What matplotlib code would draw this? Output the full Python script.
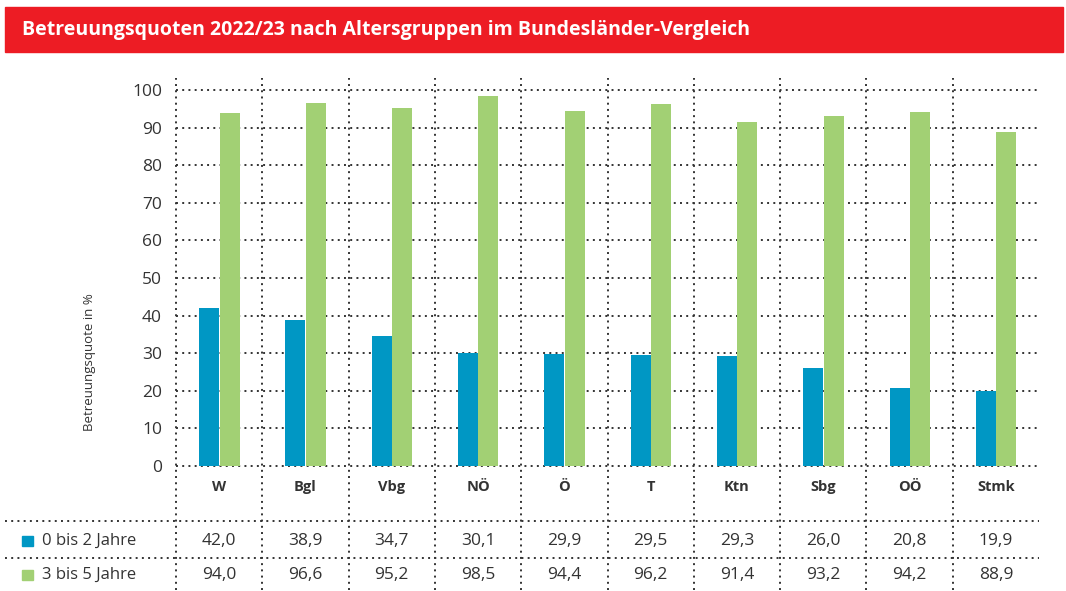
import matplotlib
matplotlib.use("Agg")
import matplotlib.pyplot as plt
from matplotlib.patches import Rectangle
from matplotlib.transforms import blended_transform_factory

# Data
regions = ["W", "Bgl", "Vbg", "NÖ", "Ö", "T", "Ktn", "Sbg", "OÖ", "Stmk"]
age_0_2 = [42.0, 38.9, 34.7, 30.1, 29.9, 29.5, 29.3, 26.0, 20.8, 19.9]
age_3_5 = [94.0, 96.6, 95.2, 98.5, 94.4, 96.2, 91.4, 93.2, 94.2, 88.9]
series_labels = ["0 bis 2 Jahre", "3 bis 5 Jahre"]
title = "Betreuungsquoten 2022/23 nach Altersgruppen im Bundesländer-Vergleich"
ylabel = "Betreuungsquote in %"

BLUE = "#0097c4"
GREEN = "#a2d074"
RED = "#ed1c24"
GRID = "#333333"
TEXT = "#333333"

plt.rcParams["font.family"] = ["Open Sans", "DejaVu Sans"]

W, H = 1066, 591
fig = plt.figure(figsize=(W / 100, H / 100), dpi=100)


def py(p):
    """pixel row -> figure fraction"""
    return 1 - p / H


# red title banner
fig.patches.append(Rectangle((5 / W, py(52)), (1063 - 5) / W, (52 - 7) / H,
                             transform=fig.transFigure, color=RED, zorder=0))
fig.text(22 / W, py(30), title, color="white", fontsize=14, fontweight="bold",
         va="center", ha="left")

# main axes spans from top of gridlines down to the table bottom
top_px, bot_px, zero_px, hundred_px = 78, 590, 466, 90
scale = (zero_px - hundred_px) / 100.0


def dy(p):
    """pixel row -> data y"""
    return (zero_px - p) / scale


left_px, right_px = 176, 1039
ax = fig.add_axes([left_px / W, py(bot_px), (right_px - left_px) / W, (bot_px - top_px) / H])
ax.set_xlim(-0.5, len(regions) - 0.5)
ax.set_ylim(dy(bot_px), dy(top_px))
for s in ax.spines.values():
    s.set_visible(False)
ax.set_xticks([])
ax.set_yticks(range(0, 101, 10))
ax.tick_params(axis="y", length=0, pad=10, labelsize=12.5, labelcolor=TEXT)

dot = dict(color=GRID, linewidth=1.4, linestyle=(0, (1, 2.2)), zorder=1)

# horizontal grid
for v in range(0, 101, 10):
    ax.plot([-0.5, len(regions) - 0.5], [v, v], **dot)
# vertical grid incl. left axis line
for k in range(len(regions)):
    ax.plot([k - 0.5, k - 0.5], [dy(bot_px), dy(top_px)], clip_on=False, **dot)

# bars
x = list(range(len(regions)))
bw = 20 / ((right_px - left_px) / len(regions))
ax.bar([i - bw / 2 for i in x], age_0_2, width=bw, color=BLUE, zorder=2)
ax.bar([i + bw / 2 + 0.005 for i in x], age_3_5, width=bw, color=GREEN, zorder=2)

# category labels
for i, r in zip(x, regions):
    ax.text(i, dy(487), r, ha="center", va="center", fontsize=10.5,
            fontweight="bold", color=TEXT)

# table
tr = blended_transform_factory(fig.transFigure, ax.transData)
for p in (521, 558):
    ax.plot([5 / W, right_px / W], [dy(p), dy(p)], transform=tr, clip_on=False, **dot)

rows = [(541, age_0_2, BLUE), (575, age_3_5, GREEN)]
for (p, vals, col), lab in zip(rows, series_labels):
    ax.add_patch(Rectangle((22 / W, dy(p + 5)), 11 / W, 10 / scale, transform=tr,
                           color=col, clip_on=False))
    ax.text(42 / W, dy(p), lab, transform=tr, ha="left", va="center",
            fontsize=12, color=TEXT)
    for i, v in zip(x, vals):
        ax.text(i, dy(p), f"{v:.1f}".replace(".", ","), ha="center", va="center",
                fontsize=12.5, color=TEXT)

fig.text(90 / W, py(362), ylabel, rotation=90, ha="center", va="center",
         fontsize=9.5, color=TEXT)

fig.savefig("out.png", dpi=100)
